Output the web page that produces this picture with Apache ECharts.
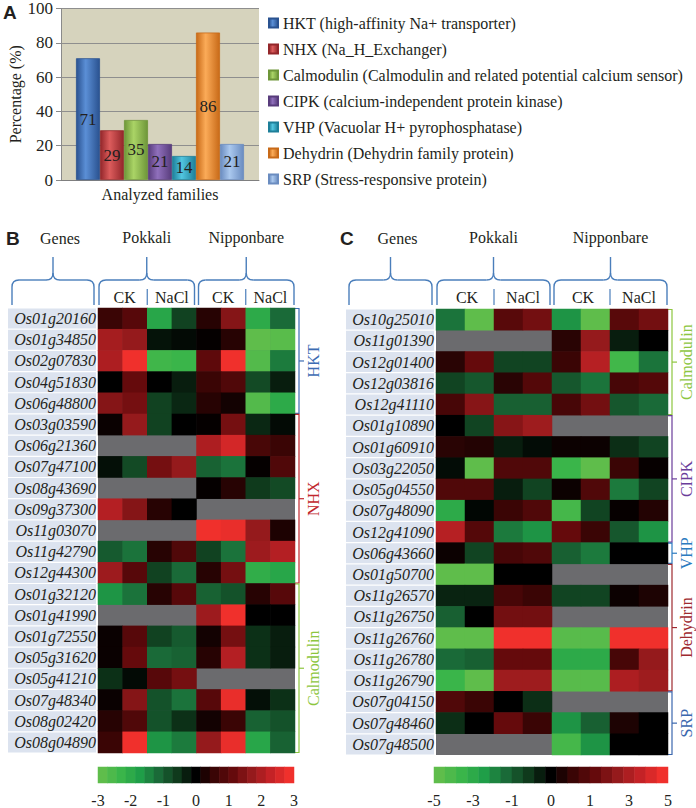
<!DOCTYPE html>
<html><head><meta charset="utf-8">
<script src="https://cdn.jsdelivr.net/npm/echarts@6/dist/echarts.min.js"></script>
<style>html,body{margin:0;padding:0;background:#fff}#c{width:696px;height:808px}</style>
</head><body><div id="c"></div>
<script>
// ---------------- DATA ----------------
const families = [
  'HKT (high-affinity Na+ transporter)',
  'NHX (Na_H_Exchanger)',
  'Calmodulin (Calmodulin and related potential calcium sensor)',
  'CIPK (calcium-independent protein kinase)',
  'VHP (Vacuolar H+ pyrophosphatase)',
  'Dehydrin (Dehydrin family protein)',
  'SRP (Stress-responsive protein)'
];
const percentages = [71, 29, 35, 21, 14, 86, 21];
const barCategory = ['Analyzed families'];

const strains = ['Pokkali', 'Nipponbare'];
const treatments = ['CK', 'NaCl'];
const columns = ['P-CK-1','P-CK-2','P-NaCl-1','P-NaCl-2','N-CK-1','N-CK-2','N-NaCl-1','N-NaCl-2'];

const genesB = ['Os01g20160','Os01g34850','Os02g07830','Os04g51830','Os06g48800',
  'Os03g03590','Os06g21360','Os07g47100','Os08g43690','Os09g37300','Os11g03070','Os11g42790','Os12g44300',
  'Os01g32120','Os01g41990','Os01g72550','Os05g31620','Os05g41210','Os07g48340','Os08g02420','Os08g04890'];
const valuesB = [
  [0.6, 1.0, -2.0, -0.7, 0.4, 1.6, -2.1, -1.2],
  [2.0, 1.8, -0.2, -0.1, 0.05, 0.4, -3.0, -2.9],
  [2.1, 3.0, -2.5, -2.4, 1.1, 3.0, -2.8, -1.4],
  [0.0, 1.2, 0.0, -0.3, 0.6, 0.9, -0.8, -0.3],
  [1.6, 1.4, -0.7, -0.4, 0.4, 0.2, -2.8, -2.1],
  [0.1, 1.8, -0.7, 0.0, 0.05, 1.4, -0.4, -0.1],
  [null, null, null, null, 2.1, 2.6, 0.8, 0.6],
  [-0.15, -0.8, 1.4, 1.8, -1.1, -1.3, 0.05, 0.9],
  [null, null, null, null, 0.05, 0.4, -0.6, -0.8],
  [2.2, 1.6, 0.4, 0.0, null, null, null, null],
  [null, null, null, null, 3.0, 2.9, 1.8, 0.3],
  [-1.0, -1.3, 0.4, 0.9, -0.7, -1.3, 1.9, 2.2],
  [1.9, 1.0, -0.7, -1.2, 0.4, 1.4, -2.2, -2.0],
  [-1.7, -1.3, 0.4, 1.0, -1.1, -0.9, 0.4, 1.0],
  [null, null, null, null, 1.9, 3.0, 0.0, 0.0],
  [0.1, 1.0, -0.7, -1.0, 0.2, 1.4, -0.5, -0.3],
  [0.1, 1.2, -1.2, -1.1, 0.4, 2.2, -0.5, -0.3],
  [-0.5, -0.1, 1.0, 1.4, null, null, null, null],
  [0.1, 1.6, -0.9, -1.3, 1.0, 2.9, -0.15, -0.5],
  [0.4, 0.9, -0.9, -0.5, 0.2, 0.6, -1.1, -0.9],
  [0.6, 3.0, -1.7, -1.4, 1.8, 2.9, -2.0, -1.1]
];
const groupNamesB = ['HKT', 'NHX', 'Calmodulin'];
const groupSizesB = [5, 8, 8];

const genesC = ['Os10g25010','Os11g01390','Os12g01400','Os12g03816','Os12g41110',
  'Os01g10890','Os01g60910','Os03g22050','Os05g04550','Os07g48090','Os12g41090',
  'Os06g43660',
  'Os01g50700','Os11g26570','Os11g26750','Os11g26760','Os11g26780','Os11g26790',
  'Os07g04150','Os07g48460','Os07g48500'];
const valuesC = [
  [-2.2, -5, 1.7, 2.3, -2.8, -5, 1.7, 2.3],
  [null, null, null, null, 0.7, 3.0, -0.5, 0],
  [0.7, 2.0, -1.2, -1.2, 1.0, 3.7, -4.2, -2.2],
  [-1.2, -1.6, 0.7, 1.6, -1.6, -2.2, 1.3, 1.6],
  [1.3, 2.7, -1.8, -1.8, 1.3, 2.3, -1.6, -2.0],
  [0, -1.2, 2.7, 3.2, null, null, null, null],
  [0.7, 0.6, -0.5, -0.2, 0.2, 0.2, -0.8, -1.2],
  [-0.2, -5, 1.5, 1.5, -4.0, -5, 1.0, 0.1],
  [1.5, 1.5, -0.5, -1.2, 0.2, 1.5, -2.3, -1.2],
  [-3.5, -0.1, 1.0, 1.5, -4.3, -1.2, 0.1, 0.6],
  [3.7, 1.6, -2.3, -2.8, 2.0, 1.0, -1.6, -2.8],
  [0.2, -1.2, 1.3, 1.5, -1.8, -2.3, 0, 0],
  [-5, -5, 0, 0, null, null, null, null],
  [-0.6, -0.6, 1.3, 1.0, -1.2, -1.2, 0.2, 0.5],
  [-1.8, 0, 2.3, 2.3, null, null, null, null],
  [-5, -5, 5, 5, -4.8, -4.8, 5, 5],
  [-2.0, -1.8, 2.0, 2.0, -3.5, -3.5, 1.3, 3.0],
  [-4.0, -5, 3.2, 3.2, -4.8, -4.8, 3.5, 3.2],
  [1.5, 1.0, 0, -0.8, null, null, null, null],
  [-0.8, 0, 2.0, 1.0, -2.8, -1.8, 0.5, 0],
  [null, null, null, null, -4.3, -2.8, 0, 0]
];
const groupNamesC = ['Calmodulin', 'CIPK', 'VHP', 'Dehydrin', 'SRP'];
const groupSizesC = [5, 6, 1, 6, 3];

const scaleStepsB = [-3, -2.7, -2.4, -2.1, -1.8, -1.5, -1.2, -0.9, -0.6, -0.3, 0, 0.3, 0.6, 0.9, 1.2, 1.5, 1.8, 2.1, 2.4, 2.7, 3];
const scaleLabelsB = ['-3', '-2', '-1', '0', '1', '2', '3'];
const scaleStepsC = [-5, -4.5, -4, -3.5, -3, -2.5, -2, -1.5, -1, -0.5, 0, 0.5, 1, 1.5, 2, 2.5, 3, 3.5, 4, 4.5, 5];
const scaleLabelsC = ['-5', '-3', '-1', '0', '1', '3', '5'];

// ---------------- STYLE ----------------
const SERIF = 'Liberation Serif';
const SANS = 'Liberation Sans';
const TXT = '#231f20';
const BRACE = '#4a7ebb';
const barShades = [
  ['#2a5290', '#5b8fd6'], ['#93262a', '#dc5c5c'], ['#6e9639', '#aad466'],
  ['#583c7c', '#9070bc'], ['#1d7f99', '#52c6e0'], ['#c86a18', '#fbab58'], ['#6a8cc0', '#aac8ee']
];
const ramp = ['#5fbd4b', '#3ab54a', '#1f9e48', '#1a6a38', '#0f3a1c', '#000000',
  '#3a0505', '#650a0c', '#951a1c', '#c42226', '#f0302c'];
const groupColorsB = ['#3d6cb3', '#c1272d', '#8dc63f'];
const groupColorsC = ['#8dc63f', '#6a3d9a', '#2b7bc0', '#9e2a30', '#3b67ae'];

const GA = {left: 61, top: 5, width: 198, height: 175};
const GB = {left: 98, top: 308, width: 197, height: 445};
const GC = {left: 436, top: 309, width: 232, height: 446};
const CBB = {left: 98, top: 767, width: 196, height: 18};
const CBC = {left: 434, top: 767, width: 234, height: 18};

// ---------------- BUILD ----------------
function cells(vals) {
  const out = [];
  vals.forEach((row, i) => row.forEach((v, j) => out.push([j, i, v === null ? '-' : v])));
  return out;
}
function grad(i) {
  const [d, l] = barShades[i];
  return new echarts.graphic.LinearGradient(0, 0, 1, 0, [
    {offset: 0, color: d}, {offset: 0.4, color: l}, {offset: 1, color: d}]);
}
function seg(x1, y1, x2, y2, color, w) {
  return {type: 'line', shape: {x1, y1, x2, y2}, style: {stroke: color, lineWidth: w || 1.4}};
}
function curve(x1, y1, cx, cy, x2, y2, color) {
  return {type: 'bezierCurve', shape: {x1, y1, x2, y2, cpx1: cx, cpy1: cy},
    style: {stroke: color, lineWidth: 1.4, fill: 'none'}};
}
function brace(x0, x1, xc, yTop, yMid, yBot) {
  const r = 7, c = BRACE;
  return [
    seg(x0, yBot, x0, yMid + r, c), curve(x0, yMid + r, x0, yMid, x0 + r, yMid, c),
    seg(x0 + r, yMid, xc - r, yMid, c), curve(xc - r, yMid, xc, yMid, xc, yMid - r, c),
    seg(xc, yMid - r, xc, yTop, c), curve(xc, yMid - r, xc, yMid, xc + r, yMid, c),
    seg(xc + r, yMid, x1 - r, yMid, c), curve(x1 - r, yMid, x1, yMid, x1, yMid + r, c),
    seg(x1, yMid + r, x1, yBot, c)
  ];
}
function text(x, y, s, opt) {
  return {type: 'text', x: x, y: y,
    style: Object.assign({text: s, fill: TXT, fontFamily: SERIF, fontSize: 16, align: 'center', verticalAlign: 'middle'}, opt || {})};
}
function header(G, labelLeft) {
  const els = [];
  const colX = j => G.left + G.width * j / 8;
  const yTop = 257, yMid = 280, yBot = 305, yTitle = 238, ySub = 297;
  const gx0 = labelLeft + 4, gx1 = G.left - 4, gc = (gx0 + gx1) / 2;
  els.push(...brace(gx0, gx1, gc, yTop, yMid, yBot));
  els.push(text(gc + 7, yTitle, 'Genes'));
  strains.forEach((s, k) => {
    const x0 = colX(4 * k) + (k ? 2 : 1), x1 = colX(4 * k + 4) - (k ? 1 : 2), xc = (x0 + x1) / 2;
    els.push(...brace(x0, x1, xc, yTop, yMid, yBot));
    els.push(text(xc, yTitle - 1, s));
    els.push(text(colX(4 * k + 1) + 2, ySub, treatments[0]));
    els.push(text(colX(4 * k + 3), ySub, treatments[1]));
    els.push(seg(colX(4 * k + 2), 289, colX(4 * k + 2), 305, BRACE, 1.2));
  });
  return els;
}
function groupBrackets(G, names, sizes, colors, nRows) {
  const els = [];
  const rowH = G.height / nRows;
  const xR = G.left + G.width, xb = xR + 4;
  let r = 0;
  names.forEach((nm, k) => {
    const yT = G.top + r * rowH + 0.5, yB = G.top + (r + sizes[k]) * rowH - 0.5, ym = (yT + yB) / 2;
    r += sizes[k];
    els.push({type: 'polyline', shape: {points: [[xR, yT], [xb, yT], [xb, yB], [xR, yB]]},
      style: {fill: 'none', stroke: colors[k], lineWidth: 1.2}});
    els.push(seg(xb, ym, xb + 5, ym, colors[k], 1.2));
    els.push({type: 'text', x: xb + 14, y: ym, rotation: Math.PI / 2,
      style: {text: nm, fill: colors[k], fontFamily: SERIF, fontSize: 16, align: 'center', verticalAlign: 'middle'}});
  });
  return els;
}

const geneLabel = {
  interval: 0, margin: 2, fontFamily: SERIF, fontStyle: 'italic', fontSize: 16, color: TXT,
  backgroundColor: '#dce3ef', width: 85, height: 20, lineHeight: 20, padding: [0, 0, 0, 3], align: 'right'
};
const scaleLabel = {interval: 0, margin: 9, fontFamily: SERIF, fontSize: 16, color: TXT};

const chart = echarts.init(document.getElementById('c'), null, {renderer: 'svg'});
const option = {
  animation: false,
  backgroundColor: '#ffffff',
  grid: [
    Object.assign({show: true, backgroundColor: '#d6d3bd', borderWidth: 0}, GA),
    Object.assign({show: true, backgroundColor: '#6b6b6e', borderWidth: 0}, GB),
    Object.assign({show: true, backgroundColor: '#6b6b6e', borderWidth: 0}, GC),
    CBB, CBC
  ],
  legend: {
    orient: 'vertical', left: 263, top: 10, itemWidth: 9, itemHeight: 9, itemGap: 10, icon: 'rect',
    selectedMode: false, data: families,
    textStyle: {fontFamily: SERIF, fontSize: 16, color: TXT, lineHeight: 16}
  },
  visualMap: [
    {show: false, type: 'continuous', min: -3, max: 3, seriesIndex: [7, 9], inRange: {color: ramp}},
    {show: false, type: 'continuous', min: -5, max: 5, seriesIndex: [8, 10], inRange: {color: ramp}}
  ],
  xAxis: [
    {gridIndex: 0, type: 'category', data: barCategory, axisTick: {show: false},
      axisLine: {lineStyle: {color: '#7f7f7f'}},
      axisLabel: {fontFamily: SERIF, fontSize: 16, color: TXT, margin: 6}},
    {gridIndex: 1, type: 'category', data: columns, show: false},
    {gridIndex: 2, type: 'category', data: columns, show: false},
    {gridIndex: 3, type: 'category', data: scaleStepsB.map(String), show: false},
    {gridIndex: 3, type: 'category', data: scaleLabelsB, boundaryGap: false, position: 'bottom',
      axisLine: {show: false}, axisTick: {show: false}, axisLabel: scaleLabel},
    {gridIndex: 4, type: 'category', data: scaleStepsC.map(String), show: false},
    {gridIndex: 4, type: 'category', data: scaleLabelsC, boundaryGap: false, position: 'bottom',
      axisLine: {show: false}, axisTick: {show: false}, axisLabel: scaleLabel}
  ],
  yAxis: [
    {gridIndex: 0, type: 'value', min: 0, max: 100, interval: 20,
      name: 'Percentage (%)', nameLocation: 'middle', nameGap: 38,
      nameTextStyle: {fontFamily: SERIF, fontSize: 16, color: TXT},
      axisLine: {show: true, lineStyle: {color: '#8a8a8a'}},
      axisTick: {show: true, length: 5, lineStyle: {color: '#8a8a8a'}},
      axisLabel: {fontFamily: SERIF, fontSize: 17, color: TXT, margin: 8},
      splitLine: {lineStyle: {color: '#8e8e8e', width: 1}}},
    {gridIndex: 1, type: 'category', data: genesB, inverse: true,
      axisLine: {show: false}, axisTick: {show: false}, axisLabel: geneLabel},
    {gridIndex: 2, type: 'category', data: genesC, inverse: true,
      axisLine: {show: false}, axisTick: {show: false}, axisLabel: geneLabel},
    {gridIndex: 3, type: 'category', data: ['scale'], show: false},
    {gridIndex: 4, type: 'category', data: ['scale'], show: false}
  ],
  series: [
    ...families.map((f, i) => ({
      type: 'bar', name: f, xAxisIndex: 0, yAxisIndex: 0, data: [percentages[i]],
      barWidth: 24, barGap: '0%',
      itemStyle: {color: grad(i), borderColor: barShades[i][0], borderWidth: 0.8},
      label: {show: true, position: 'inside', color: TXT, fontFamily: SERIF, fontSize: 17},
      emphasis: {disabled: true}
    })),
    {type: 'heatmap', xAxisIndex: 1, yAxisIndex: 1, data: cells(valuesB), emphasis: {disabled: true}},
    {type: 'heatmap', xAxisIndex: 2, yAxisIndex: 2, data: cells(valuesC), emphasis: {disabled: true}},
    {type: 'heatmap', xAxisIndex: 3, yAxisIndex: 3, data: scaleStepsB.map((v, j) => [j, 0, v]), emphasis: {disabled: true}},
    {type: 'heatmap', xAxisIndex: 5, yAxisIndex: 4, data: scaleStepsC.map((v, j) => [j, 0, v]), emphasis: {disabled: true}}
  ],
  graphic: [
    text(3, 12, 'A', {fontFamily: SANS, fontWeight: 'bold', fontSize: 19, align: 'left'}),
    text(6, 238, 'B', {fontFamily: SANS, fontWeight: 'bold', fontSize: 19, align: 'left'}),
    text(340, 238, 'C', {fontFamily: SANS, fontWeight: 'bold', fontSize: 19, align: 'left'}),
    ...header(GB, 8),
    ...header(GC, 345),
    ...groupBrackets(GB, groupNamesB, groupSizesB, groupColorsB, genesB.length),
    ...groupBrackets(GC, groupNamesC, groupSizesC, groupColorsC, genesC.length)
  ]
};
chart.setOption(option);
</script>
</body></html>
